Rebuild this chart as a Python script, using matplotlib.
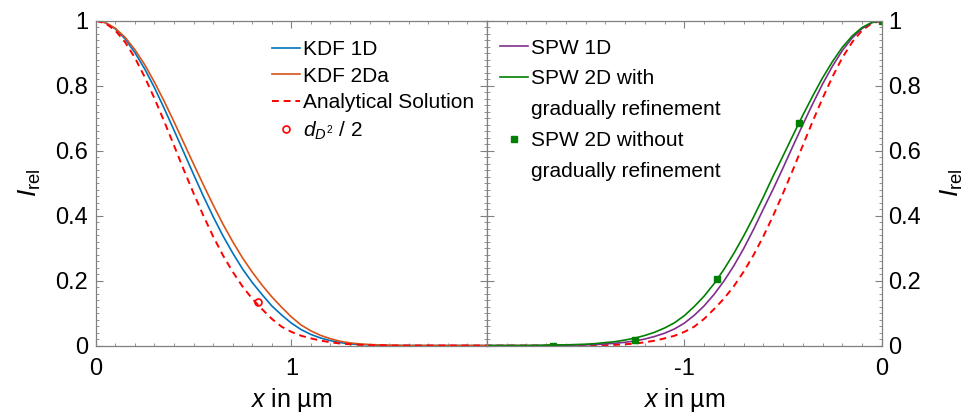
import matplotlib

matplotlib.use("Agg")

import matplotlib.pyplot as plt
from matplotlib.lines import Line2D
from matplotlib.ticker import MultipleLocator

plt.rcParams["font.family"] = ["Liberation Sans", "DejaVu Sans"]
plt.rcParams["mathtext.fontset"] = "custom"
plt.rcParams["mathtext.rm"] = "Liberation Sans"
plt.rcParams["mathtext.it"] = "Liberation Sans:italic"

# distance from the centre in um (left panel positive, right panel mirrored)
x_dist = [0.0, 0.05, 0.1, 0.15, 0.2, 0.25, 0.3, 0.35, 0.4, 0.45,
          0.5, 0.55, 0.6, 0.65, 0.7, 0.75, 0.8, 0.85, 0.9, 0.95,
          1.0, 1.05, 1.1, 1.15, 1.2, 1.25, 1.3, 1.35, 1.4, 1.45,
          1.5, 1.6, 1.7, 1.8, 1.9, 2.0]

analytical = [1.000, 0.992, 0.970, 0.934, 0.886, 0.827, 0.761, 0.690, 0.616, 0.541,
              0.469, 0.400, 0.336, 0.278, 0.227, 0.182, 0.144, 0.112, 0.082, 0.058,
              0.042, 0.030, 0.022, 0.015, 0.010, 0.006, 0.004, 0.002, 0.001, 0.001,
              0.0, 0.0, 0.0, 0.0, 0.0, 0.0]
kdf_1d = [1.000, 0.994, 0.975, 0.944, 0.902, 0.852, 0.794, 0.730, 0.663, 0.595,
          0.527, 0.460, 0.397, 0.338, 0.285, 0.236, 0.194, 0.157, 0.122, 0.094,
          0.069, 0.049, 0.034, 0.023, 0.015, 0.009, 0.005, 0.003, 0.002, 0.001,
          0.0, 0.0, 0.0, 0.0, 0.0, 0.0]
kdf_2da = [1.000, 0.994, 0.977, 0.949, 0.911, 0.865, 0.811, 0.752, 0.689, 0.624,
           0.559, 0.495, 0.433, 0.374, 0.320, 0.270, 0.226, 0.186, 0.150, 0.118,
           0.088, 0.063, 0.045, 0.031, 0.021, 0.013, 0.008, 0.005, 0.003, 0.002,
           0.001, 0.0, 0.0, 0.0, 0.0, 0.0]
spw_1d = [1.000, 0.994, 0.976, 0.947, 0.908, 0.860, 0.805, 0.744, 0.680, 0.614,
          0.547, 0.482, 0.420, 0.357, 0.298, 0.245, 0.198, 0.157, 0.122, 0.093,
          0.069, 0.051, 0.038, 0.028, 0.020, 0.014, 0.010, 0.007, 0.005, 0.003,
          0.002, 0.001, 0.0, 0.0, 0.0, 0.0]
spw_2d_grad = [1.000, 0.995, 0.979, 0.953, 0.918, 0.874, 0.824, 0.768, 0.709, 0.647,
               0.584, 0.522, 0.457, 0.395, 0.337, 0.283, 0.234, 0.190, 0.152, 0.120,
               0.092, 0.070, 0.054, 0.041, 0.031, 0.023, 0.017, 0.012, 0.009, 0.006,
               0.004, 0.002, 0.001, 0.0, 0.0, 0.0]

# single points
dd_x = [0.83]
dd_y = [0.135]
spw_2d_nograd_x = [0.0, -0.417, -0.833, -1.25, -1.667]
spw_2d_nograd_y = [1.0, 0.685, 0.206, 0.018, 0.0]

x_left = x_dist
x_right = [-v for v in x_dist]

fig = plt.figure(figsize=(9.68, 4.13), dpi=100)
ax1 = fig.add_axes([0.0989, 0.1634, 0.4042, 0.7864])
ax2 = fig.add_axes([0.5031, 0.1634, 0.4078, 0.7864])

ax1.plot(x_left, kdf_1d, color="#0072BD", lw=1.2, label="KDF 1D")
ax1.plot(x_left, kdf_2da, color="#D95319", lw=1.2, label="KDF 2Da")
ax1.plot(x_left, analytical, color="#FF0000", lw=1.4, ls=(0, (3.5, 2.5)),
         label="Analytical Solution")
ax1.plot(dd_x, dd_y, ls="none", marker="o", ms=5, mfc="none", mec="#FF0000",
         mew=1.2, label=r"$d_{D^{\mathrm{2}}}$ / 2")

ax2.plot(x_right, analytical, color="#FF0000", lw=1.4, ls=(0, (3.5, 2.5)))
h_1d, = ax2.plot(x_right, spw_1d, color="#7E2F8E", lw=1.2)
h_grad, = ax2.plot(x_right, spw_2d_grad, color="#008000", lw=1.2)
h_nograd, = ax2.plot(spw_2d_nograd_x, spw_2d_nograd_y, ls="none", marker="s",
                     ms=5, color="#008000")

ax1.set_xlim(0, 2)
ax2.set_xlim(-2, 0)
ax1.set_xticks([0, 1, 2], ["0", "1", ""])
ax2.set_xticks([-2, -1, 0], ["", "-1", "0"])

for ax in (ax1, ax2):
    ax.set_ylim(0, 1)
    ax.set_yticks([0, 0.2, 0.4, 0.6, 0.8, 1], ["0", "0.2", "0.4", "0.6", "0.8", "1"])
    ax.xaxis.set_minor_locator(MultipleLocator(0.1))
    ax.yaxis.set_minor_locator(MultipleLocator(0.02))
    ax.tick_params(which="both", direction="in", top=True, left=True, right=True,
                   color="#808080", labelcolor="black", labelsize=17)
    ax.tick_params(which="major", length=5, width=0.8)
    ax.tick_params(which="minor", length=2.5, width=0.6)
    ax.tick_params(axis="x", pad=9)
    for sp in ax.spines.values():
        sp.set_color("#808080")
        sp.set_linewidth(0.9)
    ax.set_xlabel(r"$x$ in µm", fontsize=18, labelpad=4)

ax1.tick_params(axis="y", pad=5.5, labelleft=True, labelright=False)
ax2.tick_params(axis="y", pad=4.5, labelleft=False, labelright=True)

ax1.set_ylabel(r"$I_{\mathrm{rel}}$", fontsize=19, labelpad=9)
ax2.yaxis.set_label_position("right")
ax2.set_ylabel(r"$I_{\mathrm{rel}}$", fontsize=19, labelpad=32, rotation=90,
               va="bottom")

ax1.legend(loc="upper left", bbox_to_anchor=(0.45, 0.94), frameon=False,
           fontsize=15, handlelength=1.35, handletextpad=0.15,
           labelspacing=0.36, borderpad=0, borderaxespad=0)

# second lines of the long labels get an empty handle so the marks sit on line one
blank = Line2D([], [], ls="none", marker="")
ax2.legend(handles=[h_1d, h_grad, blank, h_nograd, blank],
           labels=["SPW 1D", "SPW 2D with", "gradually refinement",
                   "SPW 2D without", "gradually refinement"],
           loc="upper left", bbox_to_anchor=(0.033, 0.945), frameon=False,
           fontsize=15, handlelength=1.35, handletextpad=0.15,
           labelspacing=0.57, borderpad=0, borderaxespad=0)

fig.savefig("out.png", dpi=100)
plt.close(fig)
